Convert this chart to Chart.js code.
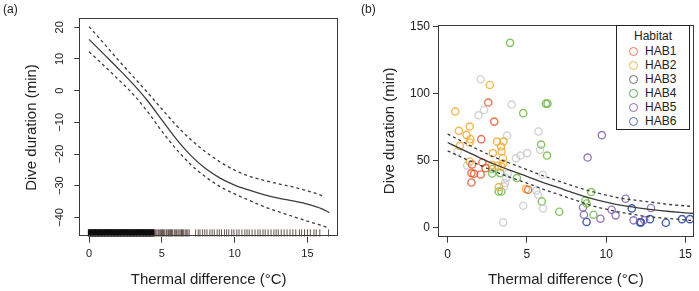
<!DOCTYPE html>
<html lang="en">
<head>
<meta charset="UTF-8">
<title>Dive duration vs thermal difference</title>
<script src="https://cdn.jsdelivr.net/npm/chart.js"></script>
<style>
  body { margin: 0; background: #fff; font-family: "Liberation Sans", Arial, sans-serif; }
  .wrap { position: relative; width: 699px; height: 291px; overflow: hidden; }
  canvas { position: absolute; top: 0; }
  #chartA { left: 0; }
  #chartB { left: 350px; }
  .panel { position: absolute; top: 2px; font-size: 12px; color: #222; }
  #legendB {
    position: absolute; left: 616px; top: 25px; width: 72px; height: 100px;
    border: 1.5px solid #222; background: #fff; padding-top: 3px; box-sizing: content-box;
    font-size: 12px; color: #222;
  }
  #legendB .title { text-align: center; line-height: 14px; margin-bottom: 1px; }
  #legendB .row { display: flex; align-items: center; height: 14px; }
  #legendB .dot { width: 7px; height: 7px; border: 1.3px solid; border-radius: 50%; margin: 0 7px 0 12px; }
</style>
</head>
<body>
<div class="wrap">
  <canvas id="chartA" width="350" height="291"></canvas>
  <canvas id="chartB" width="349" height="291"></canvas>
  <div class="panel" style="left:3px">(a)</div>
  <div class="panel" style="left:361px">(b)</div>
  <div id="legendB"></div>
</div>

<script>
// ---- panel (a): smooth term of thermal difference ----
const aXTicks = [0, 5, 10, 15];
const aYTicks = [20, 10, 0, -10, -20, -30, -40];
const fitAX = [0, 1, 2, 3, 4, 5, 6, 7, 8, 9, 10, 11, 12, 13, 14, 15, 16, 16.5];
const fitAMean = [16.2, 11.6, 7, 2.2, -3.1, -9.2, -15.3, -20.5, -24.6, -27.6, -29.8, -31.4, -32.8, -33.9, -34.8, -35.8, -37.3, -38.5];
const fitALower = [12.3, 8, 3.6, -1, -6.5, -12.8, -18.5, -23.4, -27.2, -30.3, -32.6, -34.6, -36.6, -38.2, -39.7, -41.2, -42.6, -43.4];
const fitAUpperX = [0, 1, 2, 3, 4, 5, 6, 7, 8, 9, 10, 11, 12, 13, 14, 15, 16, 16.2];
const fitAUpper = [20.2, 15, 9.7, 4.6, -0.5, -5.8, -11, -15.5, -19.3, -22.5, -25.1, -27, -28.3, -29.4, -30.4, -31.6, -33.2, -33.7];
// rug of observed thermal differences
const rugDense = [0, 0.1, 0.2, 0.3, 0.4, 0.5, 0.6, 0.7, 0.8, 0.9, 1, 1.1, 1.2, 1.3, 1.4, 1.5, 1.6, 1.7, 1.8, 1.9,
  2, 2.1, 2.2, 2.3, 2.4, 2.5, 2.6, 2.7, 2.8, 2.9, 3, 3.1, 3.2, 3.3, 3.4, 3.5, 3.6, 3.7, 3.8, 3.9, 4, 4.1, 4.2, 4.3, 4.4];
const rugSparse = [4.5, 4.58, 4.66, 4.75, 4.82, 4.9, 4.98, 5.05, 5.12, 5.2, 5.3, 5.36, 5.45, 5.52, 5.6, 5.66, 5.74,
  5.85, 5.92, 6.0, 6.1, 6.18, 6.26, 6.35, 6.42, 6.5, 6.6, 6.68, 6.78, 6.88,
  7.32, 7.5, 7.62, 7.8, 7.95, 8.1, 8.3, 8.45, 8.6, 8.8, 8.95, 9.1, 9.3, 9.45, 9.6, 9.8, 9.95, 10.15, 10.3, 10.5,
  10.7, 10.85, 11.0, 11.2, 11.4, 11.6, 11.75, 11.95, 12.1, 12.3, 12.5, 12.7, 12.85, 13.0, 13.2, 13.4, 13.6,
  13.8, 14.0, 14.2, 14.45, 14.6, 14.8, 15.0, 15.2, 15.45, 15.6, 15.85, 16.45];

// ---- panel (b): observed dives by habitat ----
const habitats = ['HAB1', 'HAB2', 'HAB3', 'HAB4', 'HAB5', 'HAB6'];
const bXTicks = [0, 5, 10, 15];
const bYTicks = [0, 50, 100, 150];
const hab1X = [2.56, 2.94, 2.12, 1.54, 2.19, 2.39, 1.5, 1.67, 2.08, 1.5, 5.08];
const hab1Y = [93.5, 79.3, 66.2, 47.3, 48.8, 44.6, 40.9, 40.4, 39.9, 33.9, 28.5];
const hab2X = [2.66, 0.48, 0.71, 1.39, 1.19, 1.44, 3.12, 3.52, 1.38, 3.37, 0.77, 3.4, 2.85, 3.48, 1.39, 2.81, 3.16, 3.4, 3.5, 3.23, 4.94];
const hab2Y = [106.6, 86.8, 72.4, 75.6, 69.4, 66.2, 64.4, 64.4, 63.7, 60.7, 61.2, 57, 55.8, 52, 49.6, 46.9, 46.3, 45.8, 48, 30.5, 29];
const hab3X = [2.08, 4.04, 2.29, 1.94, 3.75, 5.73, 5.83, 5.02, 4.6, 4.31, 0.64, 1.23, 3.79, 3.69, 3.62, 3.56, 5.6, 5.7, 6.0, 6.02, 4.77, 3.5];
const hab3Y = [110.9, 92, 88, 84, 68.9, 71.9, 58.3, 55.8, 54, 52, 57, 46.6, 40.4, 37.2, 33.5, 31, 28, 24.8, 39.7, 14.6, 16.6, 4.2];
const hab4X = [3.94, 6.2, 6.3, 4.77, 5.9, 6.27, 2.8, 3.31, 2.81, 4.37, 3.22, 3.39, 5.94, 7.04, 9.06, 8.68, 8.77, 9.2];
const hab4Y = [138, 92.7, 92.7, 85.6, 62.2, 54, 44, 40.9, 40.6, 37.2, 27.2, 27.2, 19.8, 12.1, 26.8, 20.3, 18.3, 9.9];
const hab5X = [9.73, 8.83, 8.54, 8.6, 9.64, 11.23, 10.35, 10.6, 11.73, 12.4, 12.83];
const hab5Y = [69.2, 52.5, 15.3, 9.9, 6.9, 21.8, 13.6, 9.4, 5.7, 5.9, 14.9];
const hab6X = [8.77, 11.62, 12.14, 12.2, 12.77, 13.77, 14.79, 15.29];
const hab6Y = [4.5, 14.6, 4.2, 4.2, 6.6, 3.9, 6.6, 6.6];
const fitBX = [0, 1, 2, 3, 4, 5, 6, 7, 8, 9, 10, 11, 12, 13, 14, 15, 15.5];
const fitBMean = [63.7, 58, 52.5, 47.3, 42.7, 38.5, 34, 30, 26, 22.3, 19.3, 16.8, 15, 13.5, 12.3, 11.3, 10.8];
const fitBUpper = [70, 64, 58, 52.5, 48, 43.5, 39, 35, 31, 27.5, 24.5, 22, 20.5, 19, 17.5, 16.5, 16];
const fitBLower = [57.5, 52, 47, 42, 37.5, 33.5, 29, 25, 21, 17, 14, 11.5, 9.5, 8, 7, 6, 5.5];

const habColors = ['#e8754f', '#f2b84b', '#6e6e6e', '#5aa855', '#8e6fae', '#4f72b5'];
const habPointColors = ['rgba(226,92,52,0.85)', 'rgba(240,172,52,0.85)', 'rgba(195,195,195,0.75)',
  'rgba(112,186,72,0.85)', 'rgba(132,100,178,0.85)', 'rgba(48,78,168,0.9)'];

Chart.defaults.font.family = "'Liberation Sans', Arial, sans-serif";
Chart.defaults.color = '#222';

const zip = (xs, ys) => xs.map((x, i) => ({x: x, y: ys[i]}));
const minus = v => String(v).replace('-', '\u2212');

// frame round the plot region, like R's box()
const boxPlugin = {
  id: 'box',
  afterDatasetsDraw(chart) {
    const a = chart.chartArea, ctx = chart.ctx;
    ctx.save();
    ctx.strokeStyle = '#3a3a3a';
    ctx.lineWidth = 1;
    ctx.strokeRect(Math.round(a.left) + 0.5, Math.round(a.top) + 0.5,
      Math.round(a.right - a.left) - 1, Math.round(a.bottom - a.top) - 1);
    ctx.restore();
  }
};

function curve(xs, ys, dashed) {
  return {
    data: zip(xs, ys), showLine: true, pointRadius: 0, borderColor: '#3c3c3c',
    borderWidth: 1.3, borderDash: dashed ? [3, 3] : [], cubicInterpolationMode: 'monotone', fill: false
  };
}

function axisX(ticks, min, max, size) {
  return {
    type: 'linear', min: min, max: max,
    afterBuildTicks: s => { s.ticks = ticks.map(v => ({value: v})); },
    afterFit: s => { s.height = 54.3; },
    grid: {drawOnChartArea: false, drawTicks: true, tickLength: 6, color: '#3a3a3a'},
    border: {display: false},
    ticks: {font: {size: size}, padding: 5, color: '#222'},
    title: {display: true, text: 'Thermal difference (°C)', font: {size: 15}, padding: {top: 0, bottom: 2}, color: '#222'}
  };
}

// ---- chart (a) ----
const rugY = -44.95;
new Chart(document.getElementById('chartA'), {
  type: 'scatter',
  data: {
    datasets: [
      curve(fitAX, fitAMean, false),
      curve(fitAUpperX, fitAUpper, true),
      curve(fitAX, fitALower, true),
      {data: rugDense.map(x => ({x: x, y: rugY})), pointStyle: 'line', rotation: 90, pointRadius: 3.7,
        borderWidth: 2.4, borderColor: '#0d0d0d', backgroundColor: '#0d0d0d'},
      {data: rugSparse.map(x => ({x: x, y: rugY})), pointStyle: 'line', rotation: 90, pointRadius: 3.7,
        borderWidth: 1, borderColor: 'rgba(60,40,30,0.8)', backgroundColor: 'rgba(60,40,30,0.8)'}
    ]
  },
  options: {
    responsive: false, animation: false,
    layout: {padding: {left: 0, top: 18.3, right: 12, bottom: 0}},
    plugins: {legend: {display: false}, tooltip: {enabled: false}},
    scales: {
      x: axisX(aXTicks, -0.67, 17.1, 11),
      y: {
        type: 'linear', min: -46.1, max: 22.84,
        afterBuildTicks: s => { s.ticks = aYTicks.map(v => ({value: v})); },
        afterFit: s => { s.width = 79.3; },
        grid: {drawOnChartArea: false, drawTicks: true, tickLength: 5, color: '#3a3a3a'},
        border: {display: false},
        ticks: {font: {size: 11}, padding: 5, minRotation: 90, maxRotation: 90, crossAlign: 'center',
          callback: minus, color: '#222'},
        title: {display: true, text: 'Dive duration (min)', font: {size: 15}, padding: {top: 23}, color: '#222'}
      }
    }
  },
  plugins: [boxPlugin]
});

// ---- chart (b) ----
const habX = [hab1X, hab2X, hab3X, hab4X, hab5X, hab6X];
const habY = [hab1Y, hab2Y, hab3Y, hab4Y, hab5Y, hab6Y];
const pointSets = habitats.map((name, i) => ({
  label: name, data: zip(habX[i], habY[i]), pointRadius: 3.6, pointBorderWidth: 1.4,
  borderColor: habPointColors[i], backgroundColor: 'rgba(0,0,0,0)'
}));

new Chart(document.getElementById('chartB'), {
  type: 'scatter',
  data: {
    datasets: [
      curve(fitBX, fitBMean, false),
      curve(fitBX, fitBUpper, true),
      curve(fitBX, fitBLower, true)
    ].concat(pointSets)
  },
  options: {
    responsive: false, animation: false,
    layout: {padding: {left: 0, top: 25, right: 3, bottom: 0}},
    plugins: {legend: {display: false}, tooltip: {enabled: false}},
    scales: {
      x: axisX(bXTicks, -0.61, 15.52, 12),
      y: {
        type: 'linear', min: -6.5, max: 151.3,
        afterBuildTicks: s => { s.ticks = bYTicks.map(v => ({value: v})); },
        afterFit: s => { s.width = 88; },
        grid: {drawOnChartArea: false, drawTicks: true, tickLength: 5, color: '#3a3a3a'},
        border: {display: false},
        ticks: {font: {size: 12}, padding: 3, color: '#222'},
        title: {display: true, text: 'Dive duration (min)', font: {size: 15}, padding: {top: 31}, color: '#222'}
      }
    }
  },
  plugins: [boxPlugin]
});

// legend for panel (b)
const legend = document.getElementById('legendB');
legend.innerHTML = '<div class="title">Habitat</div>' + habitats.map((name, i) =>
  '<div class="row"><span class="dot" style="border-color:' + habColors[i] + '"></span>' + name + '</div>').join('');
</script>
</body>
</html>
